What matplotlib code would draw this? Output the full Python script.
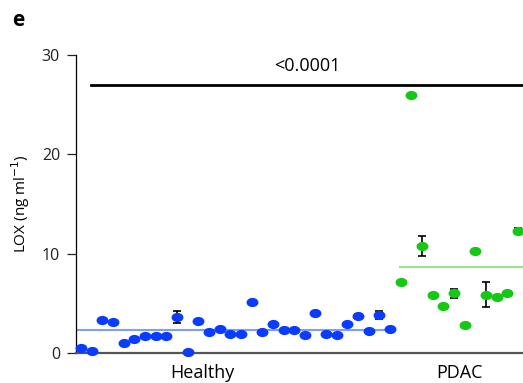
import matplotlib
matplotlib.use('Agg')
import matplotlib.pyplot as plt
import numpy as np
from matplotlib.markers import MarkerStyle
from matplotlib.transforms import Affine2D

plt.rcParams['font.family'] = ['Open Sans', 'DejaVu Sans']

# LOX values (ng/ml), one per sample
healthy = [0.47, 0.23, 3.32, 3.09, 1.00, 1.44, 1.74, 1.74, 1.74, 3.63,
           0.13, 3.25, 2.15, 2.38, 1.94, 1.94, 5.17, 2.15, 2.95, 2.28,
           2.28, 1.85, 4.06, 1.88, 1.85, 2.95, 3.73, 2.18, 3.83, 2.42]
healthy_err = [0, 0, 0.15, 0, 0, 0, 0, 0, 0, 0.58,
               0, 0, 0, 0, 0, 0, 0, 0, 0, 0,
               0, 0, 0, 0, 0, 0, 0.2, 0, 0.4, 0]
pdac = [7.12, 26.0, 10.8, 5.81, 4.73, 6.01, 2.85, 10.27, 5.87, 5.67, 6.01, 12.25]
pdac_err = [0, 0, 0.99, 0, 0, 0.47, 0, 0, 1.27, 0, 0, 0.3]
groups = ['Healthy', 'PDAC']
p_text = '<0.0001'

blue = '#0a3cff'
green = '#14c814'

fig = plt.figure(figsize=(5.23, 3.83), dpi=100)
ax = fig.add_axes([76 / 523, 30 / 383, 447 / 523, 298 / 383])

xh = np.arange(len(healthy))
xp = np.arange(len(pdac)) + len(healthy)

mk = MarkerStyle('o', transform=Affine2D().scale(1.35, 1.0))

ax.errorbar(xh, healthy, yerr=healthy_err, fmt='none', ecolor='black',
            elinewidth=1.2, capsize=3, capthick=1.2, zorder=2, clip_on=False)
ax.errorbar(xp, pdac, yerr=pdac_err, fmt='none', ecolor='black',
            elinewidth=1.2, capsize=3, capthick=1.2, zorder=2, clip_on=False)
ax.plot(xh, healthy, linestyle='none', marker=mk, ms=5.6, color=blue,
        zorder=3, clip_on=False)
ax.plot(xp, pdac, linestyle='none', marker=mk, ms=5.6, color=green,
        zorder=3, clip_on=False)

# group means
ax.plot([-0.5, 29.4], [np.mean(healthy)] * 2,
        color='#7f9cff', lw=1.5, zorder=1)
ax.plot([29.9, 42], [np.mean(pdac)] * 2,
        color='#94e694', lw=1.5, zorder=1)

# significance bar
ax.plot([0.95, 42], [27.0, 27.0], color='black', lw=2, clip_on=False)
ax.text(21.2, 28.0, p_text, ha='center', va='bottom', fontsize=13)

ax.set_xlim(-0.47, 41.47)
ax.set_ylim(0, 30)
ax.set_yticks([0, 10, 20, 30])
ax.set_xticks([11.4, 35.5])
ax.set_xticklabels(groups, fontsize=13)
ax.tick_params(axis='x', length=0, pad=8)
ax.tick_params(axis='y', length=6.5, width=0.9, labelsize=11.5, pad=5, colors='#222222')
ax.set_ylabel('LOX (ng ml$^{-1}$)', fontsize=11, labelpad=7)

ax.spines['top'].set_visible(False)
ax.spines['right'].set_visible(False)
ax.spines['left'].set_linewidth(0.9)
ax.spines['bottom'].set_color('#555555')
ax.spines['bottom'].set_linewidth(1.6)

fig.text(12 / 523, 1 - 20 / 383, 'e', fontsize=15, fontweight='bold',
         va='center', ha='left')

fig.savefig('out.png', dpi=100)
